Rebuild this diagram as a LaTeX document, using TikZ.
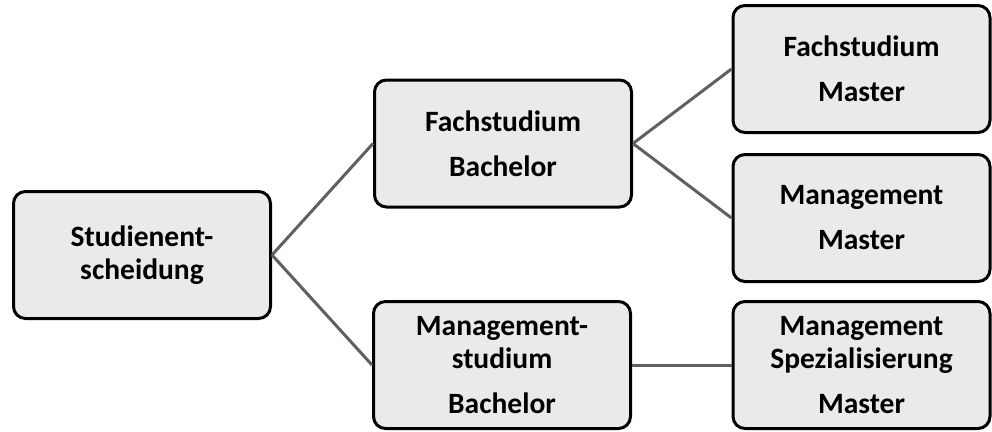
\documentclass[tikz,border=0pt]{standalone}
\usepackage{fontspec}
\setmainfont{Carlito}
\definecolor{boxgray}{HTML}{EAEAEA}
\definecolor{linkgray}{HTML}{606060}
\begin{document}
\begin{tikzpicture}[x=1pt,y=-1pt,
  box/.style={draw=black, line width=3pt, fill=boxgray, rounded corners=12pt,
    minimum width=257pt, minimum height=127pt, align=center, inner sep=0pt,
    font=\fontsize{29.5}{33}\selectfont\bfseries},
  link/.style={draw=linkgray, line width=3pt}]
\useasboundingbox (0,0) rectangle (992,431);
\node[box] (s)  at (142,255)   {Studienent-\\scheidung};
\node[box] (fb) at (503,143.5) {Fachstudium\\[12pt]Bachelor};
\node[box] (mb) at (502,365)   {Management-\\studium\\[12pt]Bachelor};
\node[box] (fm) at (861.5,69)  {Fachstudium\\[12pt]Master};
\node[box] (mm) at (861.5,218) {Management\\[12pt]Master};
\node[box] (ms) at (861.5,365) {Management\\Spezialisierung\\[12pt]Master};
\draw[link] (s.east) -- (fb.west);
\draw[link] (s.east) -- (mb.west);
\draw[link] (fb.east) -- (fm.west);
\draw[link] (fb.east) -- (mm.west);
\draw[link] (mb.east) -- (ms.west);
\end{tikzpicture}
\end{document}
